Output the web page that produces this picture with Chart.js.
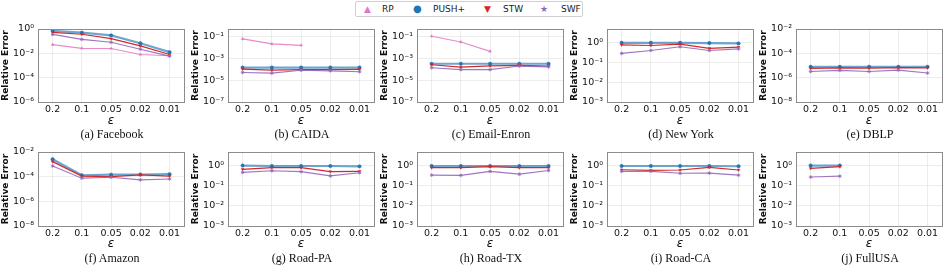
<!DOCTYPE html>
<html>
<head>
<meta charset="utf-8">
<script src="https://cdn.jsdelivr.net/npm/chart.js@4/dist/chart.umd.min.js"></script>
<style>
body { margin: 0; background: #fff; }
#wrap { position: relative; width: 947px; height: 266px; background: #fff; overflow: hidden; }
#wrap canvas { position: absolute; }
.cap { position: absolute; width: 148px; text-align: center; font: 12px 'Liberation Serif', serif; line-height: 14px; color: #111; }
#legend { position: absolute; left: 355px; top: 1px; width: 226px; height: 14px; border: 1px solid #d0d0d0; border-radius: 2px;
  font: 9px 'DejaVu Sans', sans-serif; color: #222; }
#legend span { position: absolute; top: 1px; line-height: 12px; }
</style>
</head>
<body>
<div id="wrap">
  <div id="legend">
    <span style="left:8px;color:#e377c2;font-size:9px">▲</span><span style="left:26px">RP</span>
    <span style="left:57px;color:#1f77b4;font-size:10px">●</span><span style="left:77px">PUSH+</span>
    <span style="left:128px;color:#d62728;font-size:9px">▼</span><span style="left:147px">STW</span>
    <span style="left:184px;color:#9467bd;font-size:9px">★</span><span style="left:205px">SWF</span>
  </div>
</div>
<script>
// x categories
var eps = ['0.2', '0.1', '0.05', '0.02', '0.01'];

var captions = ['(a) Facebook', '(b) CAIDA', '(c) Email-Enron', '(d) New York', '(e) DBLP',
  '(f) Amazon', '(g) Road-PA', '(h) Road-TX', '(i) Road-CA', '(j) FullUSA'];

// y ranges and tick exponents (log axis)
var yMin = [1e-6, 1e-7, 1e-7, 1e-3, 1e-8, 1e-8, 1e-3, 1e-3, 1e-3, 1e-3];
var yMax = [1, 0.46, 0.46, 5, 1e-2, 1e-2, 5, 5, 5, 5];
var yTickExp = [[-6, -4, -2, 0], [-7, -5, -3, -1], [-7, -5, -3, -1], [-3, -2, -1, 0], [-8, -6, -4, -2],
  [-8, -6, -4, -2], [-3, -2, -1, 0], [-3, -2, -1, 0], [-3, -2, -1, 0], [-3, -2, -1, 0]];

// Facebook
var fbRP = [0.052, 0.026, 0.025, 0.008, 0.0063];
var fbPUSH = [0.69, 0.5, 0.3, 0.067, 0.0125];
var fbSTW = [0.53, 0.37, 0.16, 0.041, 0.008];
var fbSWF = [0.36, 0.14, 0.081, 0.022, 0.0059];
// CAIDA
var caidaRP = [0.057, 0.02, 0.015, null, null];
var caidaPUSH = [1.4e-4, 1.4e-4, 1.4e-4, 1.4e-4, 1.4e-4];
var caidaSTW = [1.0e-4, 8e-5, 9e-5, 9e-5, 9.5e-5];
var caidaSWF = [5e-5, 4.3e-5, 8e-5, 7e-5, 5.8e-5];
// Email-Enron
var enronRP = [0.1, 0.03, 0.0042, null, null];
var enronPUSH = [3.1e-4, 3.1e-4, 3.1e-4, 3.1e-4, 3.1e-4];
var enronSTW = [2.5e-4, 1.5e-4, 2e-4, 2.2e-4, 1.9e-4];
var enronSWF = [1.35e-4, 9e-5, 9e-5, 1.9e-4, 1.6e-4];
// New York
var nyPUSH = [1.0, 1.0, 1.0, 0.97, 0.93];
var nySTW = [0.79, 0.73, 0.86, 0.52, 0.6];
var nySWF = [0.29, 0.41, 0.63, 0.41, 0.49];
// DBLP
var dblpPUSH = [7.8e-6, 7.8e-6, 7.8e-6, 7.8e-6, 7.8e-6];
var dblpSTW = [5.7e-6, 6.3e-6, 6e-6, 6.8e-6, 6.5e-6];
var dblpSWF = [3.2e-6, 4e-6, 3.2e-6, 4.2e-6, 2.4e-6];
// Amazon
var amzPUSH = [2.6e-3, 1.3e-4, 1.45e-4, 1.5e-4, 1.6e-4];
var amzSTW = [1.65e-3, 1.1e-4, 1.0e-4, 1.4e-4, 1.1e-4];
var amzSWF = [7.4e-4, 7.6e-5, 9e-5, 5.5e-5, 6.5e-5];
// Road-PA
var paPUSH = [1.05, 1.0, 1.0, 1.0, 0.96];
var paSTW = [0.68, 0.82, 0.82, 0.52, 0.54];
var paSWF = [0.48, 0.58, 0.52, 0.32, 0.46];
// Road-TX
var txPUSH = [1.0, 1.0, 1.0, 1.0, 1.0];
var txSTW = [0.82, 0.82, 0.92, 0.82, 0.82];
var txSWF = [0.35, 0.34, 0.54, 0.39, 0.6];
// Road-CA
var caPUSH = [1.0, 1.0, 1.0, 1.0, 0.97];
var caSTW = [0.65, 0.6, 0.63, 0.85, 0.63];
var caSWF = [0.54, 0.54, 0.43, 0.44, 0.35];
// FullUSA
var usaPUSH = [1.05, 1.05, null, null, null];
var usaSTW = [0.76, 0.93, null, null, null];
var usaSWF = [0.28, 0.31, null, null, null];

var seriesRP = [fbRP, caidaRP, enronRP, null, null, null, null, null, null, null];
var seriesPUSH = [fbPUSH, caidaPUSH, enronPUSH, nyPUSH, dblpPUSH, amzPUSH, paPUSH, txPUSH, caPUSH, usaPUSH];
var seriesSTW = [fbSTW, caidaSTW, enronSTW, nySTW, dblpSTW, amzSTW, paSTW, txSTW, caSTW, usaSTW];
var seriesSWF = [fbSWF, caidaSWF, enronSWF, nySWF, dblpSWF, amzSWF, paSWF, txSWF, caSWF, usaSWF];

var sup = { '-': '⁻', '0': '⁰', '1': '¹', '2': '²', '3': '³', '4': '⁴', '5': '⁵', '6': '⁶', '7': '⁷', '8': '⁸', '9': '⁹' };
function powLabel(v) {
	var e = String(Math.round(Math.log10(v)));
	return '10' + e.split('').map(function (c) { return sup[c]; }).join('');
}

// box round the plot, like matplotlib spines
var frame = {
	id: 'frame',
	afterDraw: function (chart) {
		var a = chart.chartArea, c = chart.ctx;
		c.save();
		c.strokeStyle = '#8c8c8c';
		c.lineWidth = 1;
		c.strokeRect(Math.round(a.left) + 0.5, Math.round(a.top) + 0.5, Math.round(a.right - a.left), Math.round(a.bottom - a.top));
		c.restore();
	}
};

var wrap = document.getElementById('wrap');
var tickFont = { family: 'DejaVu Sans', size: 9.5 };
var gridColor = 'rgba(0,0,0,0.07)';

for (let i = 0; i < 10; i++) {
	let row = Math.floor(i / 5), col = i % 5;
	let left = Math.round(col * 189.5);
	let top = row === 0 ? 0 : 133;
	let padTop = row === 0 ? 29 : 19;
	let xH = row === 0 ? 26 : 25;
	let h = padTop + (row === 0 ? 73 : 74) + xH;

	let cv = document.createElement('canvas');
	cv.width = 189; cv.height = h;
	cv.style.left = left + 'px'; cv.style.top = top + 'px';
	wrap.appendChild(cv);

	let cap = document.createElement('div');
	cap.className = 'cap';
	cap.textContent = captions[i];
	cap.style.left = (left + 38) + 'px';
	cap.style.top = (row === 0 ? 127 : 251) + 'px';
	wrap.appendChild(cap);

	let ds = [];
	if (seriesRP[i]) {
		ds.push({ label: 'RP', data: seriesRP[i], borderColor: 'rgba(227,119,194,0.85)', backgroundColor: '#e377c2',
			borderWidth: 1.2, pointStyle: 'triangle', pointRadius: 1.6, pointBorderWidth: 0.5, order: 4 });
	}
	ds.push({ label: 'PUSH+', data: seriesPUSH[i], borderColor: 'rgba(31,119,180,0.65)', backgroundColor: '#1f77b4',
		borderWidth: 2.2, pointStyle: 'circle', pointRadius: 1.7, pointBorderWidth: 0.5, pointBorderColor: '#1f77b4', order: 3 });
	ds.push({ label: 'STW', data: seriesSTW[i], borderColor: '#d62728', backgroundColor: '#d62728',
		borderWidth: 1.2, pointStyle: 'triangle', pointRotation: 180, pointRadius: 1.6, pointBorderWidth: 0.5, order: 2 });
	ds.push({ label: 'SWF', data: seriesSWF[i], borderColor: 'rgba(148,103,189,0.9)', backgroundColor: '#9467bd',
		borderWidth: 1.1, pointStyle: 'star', pointRadius: 1.8, pointBorderWidth: 0.8, pointBorderColor: '#9467bd', order: 1 });

	new Chart(cv.getContext('2d'), {
		type: 'line',
		data: { labels: eps, datasets: ds },
		options: {
			responsive: false,
			animation: false,
			spanGaps: false,
			layout: { padding: { top: padTop, right: 3, left: 0, bottom: 0 } },
			plugins: { legend: { display: false }, tooltip: { enabled: false } },
			scales: {
				x: {
					type: 'category',
					offset: true,
					grid: { color: gridColor, drawTicks: false, offset: false },
					border: { display: false },
					ticks: { font: tickFont, color: '#111', padding: 2, maxRotation: 0 },
					title: { display: true, text: 'ε', font: { family: 'DejaVu Sans', size: 12, style: 'italic' }, color: '#111', padding: 0 },
					afterFit: function (s) { s.height = xH; }
				},
				y: {
					type: 'logarithmic',
					min: yMin[i],
					max: yMax[i],
					grid: { color: gridColor, drawTicks: false },
					border: { display: false },
					afterBuildTicks: function (s) {
						s.ticks = yTickExp[i].map(function (e) { return { value: Math.pow(10, e) }; });
					},
					ticks: { font: tickFont, color: '#111', padding: 4, callback: function (v) { return powLabel(v); } },
					title: { display: true, text: 'Relative Error', font: { family: 'DejaVu Sans', size: 9, weight: 'bold' }, color: '#111', padding: 0 },
					afterFit: function (s) { s.width = 38; }
				}
			}
		},
		plugins: [frame]
	});
}
</script>
</body>
</html>
